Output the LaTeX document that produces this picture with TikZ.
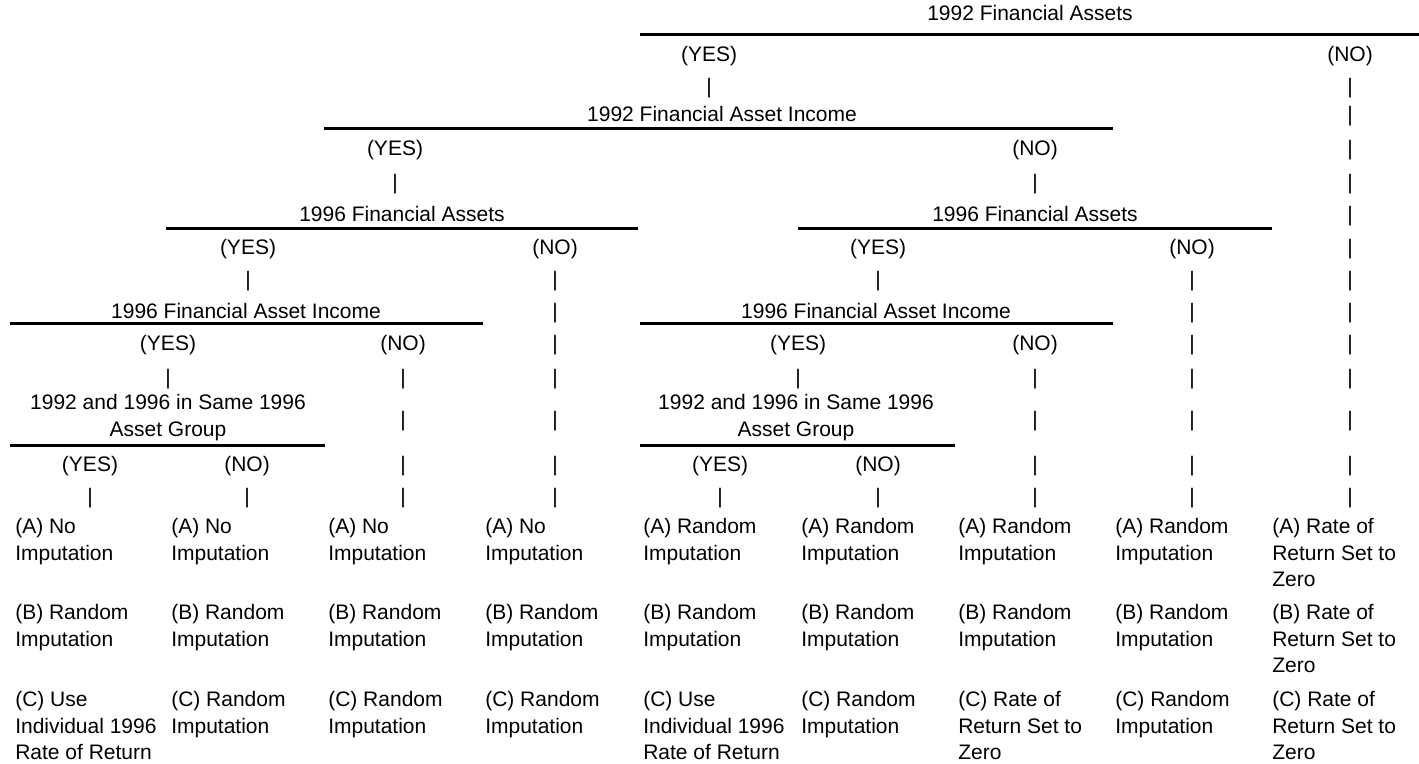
\documentclass[tikz,border=0pt]{standalone}
\usepackage{fontspec}
\setmainfont{Liberation Sans}
\begin{document}
\begin{tikzpicture}[x=0.75pt,y=-0.75pt,
  lbl/.style={font=\fontsize{15.75pt}{20pt}\selectfont, inner sep=0pt, anchor=base},
  bar/.style={lbl},
  head/.style={lbl},
  head2/.style={font=\fontsize{15.75pt}{20pt}\selectfont, inner sep=0pt, anchor=north, align=center},
  leaf/.style={font=\fontsize{15.75pt}{20pt}\selectfont, inner sep=0pt, anchor=north west, align=left},
  rule/.style={line width=2.25pt}]
\useasboundingbox (0,0) rectangle (1419,763);

% level 1
\node[head] (t1) at (1030,21) {1992 Financial Assets};
\coordinate (r1a) at (640,35); \coordinate (r1b) at (1419,35);
\draw[rule] (r1a) -- (r1b);
\node[lbl] (y1) at (709,62) {(YES)};
\node[lbl] (n1) at (1350,62) {(NO)};
\node[bar] (b1a) at (709,94) {|};
\node[bar] (b1b) at (1350,94) {|};

% level 2
\node[head] (t2) at (722,122) {1992 Financial Asset Income};
\node[bar] (b2c) at (1350,122) {|};
\coordinate (r2a) at (324,129); \coordinate (r2b) at (1113,129);
\draw[rule] (r2a) -- (r2b);
\node[lbl] (y2) at (395,156) {(YES)};
\node[lbl] (n2) at (1035,156) {(NO)};
\node[bar] (b2d) at (1350,156) {|};
\node[bar] (b3a) at (395,189) {|};
\node[bar] (b3b) at (1035,189) {|};
\node[bar] (b3c) at (1350,189) {|};

% level 3
\node[head] (t3a) at (402,221) {1996 Financial Assets};
\node[head] (t3b) at (1035,221) {1996 Financial Assets};
\node[bar] (b3d) at (1350,221) {|};
\coordinate (r3a) at (166,228); \coordinate (r3b) at (638,228);
\coordinate (r3c) at (798,228); \coordinate (r3d) at (1272,228);
\draw[rule] (r3a) -- (r3b);
\draw[rule] (r3c) -- (r3d);
\node[lbl] (y3a) at (248,254) {(YES)};
\node[lbl] (n3a) at (555,254) {(NO)};
\node[lbl] (y3b) at (878,254) {(YES)};
\node[lbl] (n3b) at (1192,254) {(NO)};
\node[bar] (b4e) at (1350,254) {|};
\node[bar] (b5a) at (248,286) {|};
\node[bar] (b5b) at (555,286) {|};
\node[bar] (b5c) at (878,286) {|};
\node[bar] (b5d) at (1192,286) {|};
\node[bar] (b5e) at (1350,286) {|};

% level 4
\node[head] (t4a) at (246,318) {1996 Financial Asset Income};
\node[bar] (b6b) at (555,318) {|};
\node[head] (t4b) at (876,318) {1996 Financial Asset Income};
\node[bar] (b6d) at (1192,318) {|};
\node[bar] (b6e) at (1350,318) {|};
\coordinate (r4a) at (10,323); \coordinate (r4b) at (483,323);
\coordinate (r4c) at (640,323); \coordinate (r4d) at (1113,323);
\draw[rule] (r4a) -- (r4b);
\draw[rule] (r4c) -- (r4d);
\node[lbl] (y4a) at (168,350) {(YES)};
\node[lbl] (n4a) at (403,350) {(NO)};
\node[bar] (b7b) at (555,350) {|};
\node[lbl] (y4b) at (798,350) {(YES)};
\node[lbl] (n4b) at (1035,350) {(NO)};
\node[bar] (b7d) at (1192,350) {|};
\node[bar] (b7e) at (1350,350) {|};
\node[bar] (b8a) at (168,384) {|};
\node[bar] (b8b) at (403,384) {|};
\node[bar] (b8c) at (555,384) {|};
\node[bar] (b8d) at (798,384) {|};
\node[bar] (b8e) at (1035,384) {|};
\node[bar] (b8f) at (1192,384) {|};
\node[bar] (b8g) at (1350,384) {|};

% level 5
\node[head2] (t5a) at (168,394) {1992 and 1996 in Same 1996\\Asset Group};
\node[head2] (t5b) at (796,394) {1992 and 1996 in Same 1996\\Asset Group};
\node[bar] (b9a) at (403,426) {|};
\node[bar] (b9b) at (555,426) {|};
\node[bar] (b9c) at (1035,426) {|};
\node[bar] (b9d) at (1192,426) {|};
\node[bar] (b9e) at (1350,426) {|};
\coordinate (r5a) at (10,445); \coordinate (r5b) at (325,445);
\coordinate (r5c) at (640,445); \coordinate (r5d) at (955,445);
\draw[rule] (r5a) -- (r5b);
\draw[rule] (r5c) -- (r5d);
\node[lbl] (y5a) at (90,471) {(YES)};
\node[lbl] (n5a) at (247,471) {(NO)};
\node[bar] (b10a) at (403,471) {|};
\node[bar] (b10b) at (555,471) {|};
\node[lbl] (y5b) at (720,471) {(YES)};
\node[lbl] (n5b) at (878,471) {(NO)};
\node[bar] (b10c) at (1035,471) {|};
\node[bar] (b10d) at (1192,471) {|};
\node[bar] (b10e) at (1350,471) {|};
\node[bar] (b11a) at (90,503) {|};
\node[bar] (b11b) at (247,503) {|};
\node[bar] (b11c) at (403,503) {|};
\node[bar] (b11d) at (555,503) {|};
\node[bar] (b11e) at (720,503) {|};
\node[bar] (b11f) at (878,503) {|};
\node[bar] (b11g) at (1035,503) {|};
\node[bar] (b11h) at (1192,503) {|};
\node[bar] (b11i) at (1350,503) {|};

% leaves: row A
\node[leaf] (a1) at (15,518) {(A) No\\Imputation};
\node[leaf] (a2) at (171,518) {(A) No\\Imputation};
\node[leaf] (a3) at (328,518) {(A) No\\Imputation};
\node[leaf] (a4) at (485,518) {(A) No\\Imputation};
\node[leaf] (a5) at (643,518) {(A) Random\\Imputation};
\node[leaf] (a6) at (801,518) {(A) Random\\Imputation};
\node[leaf] (a7) at (958,518) {(A) Random\\Imputation};
\node[leaf] (a8) at (1115,518) {(A) Random\\Imputation};
\node[leaf] (a9) at (1272,518) {(A) Rate of\\Return Set to\\Zero};
% row B
\node[leaf] (bb1) at (15,604) {(B) Random\\Imputation};
\node[leaf] (bb2) at (171,604) {(B) Random\\Imputation};
\node[leaf] (bb3) at (328,604) {(B) Random\\Imputation};
\node[leaf] (bb4) at (485,604) {(B) Random\\Imputation};
\node[leaf] (bb5) at (643,604) {(B) Random\\Imputation};
\node[leaf] (bb6) at (801,604) {(B) Random\\Imputation};
\node[leaf] (bb7) at (958,604) {(B) Random\\Imputation};
\node[leaf] (bb8) at (1115,604) {(B) Random\\Imputation};
\node[leaf] (bb9) at (1272,604) {(B) Rate of\\Return Set to\\Zero};
% row C
\node[leaf] (c1) at (15,691) {(C) Use\\Individual 1996\\Rate of Return};
\node[leaf] (c2) at (171,691) {(C) Random\\Imputation};
\node[leaf] (c3) at (328,691) {(C) Random\\Imputation};
\node[leaf] (c4) at (485,691) {(C) Random\\Imputation};
\node[leaf] (c5) at (643,691) {(C) Use\\Individual 1996\\Rate of Return};
\node[leaf] (c6) at (801,691) {(C) Random\\Imputation};
\node[leaf] (c7) at (958,691) {(C) Rate of\\Return Set to\\Zero};
\node[leaf] (c8) at (1115,691) {(C) Random\\Imputation};
\node[leaf] (c9) at (1272,691) {(C) Rate of\\Return Set to\\Zero};
\end{tikzpicture}
\end{document}
